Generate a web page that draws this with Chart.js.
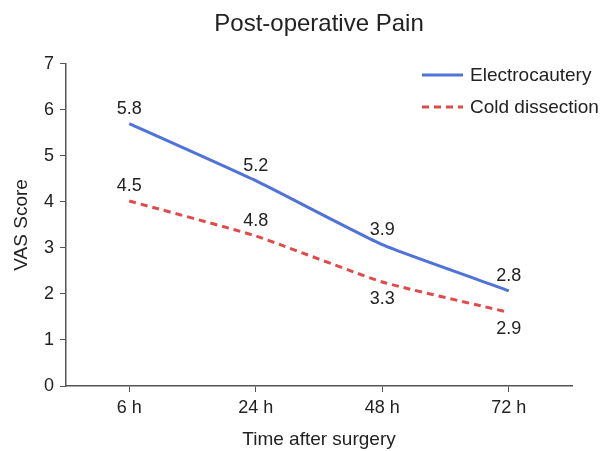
<!DOCTYPE html>
<html>
<head>
<meta charset="utf-8">
<script src="https://cdn.jsdelivr.net/npm/chart.js@4/dist/chart.umd.min.js"></script>
<style>
  html, body { margin: 0; padding: 0; background: #fff; }
  #wrap { width: 600px; height: 451px; }
</style>
</head>
<body>
<div id="wrap"><canvas id="painChart"></canvas></div>
<script>
const categories = ['6 h', '24 h', '48 h', '72 h'];
const electroValues = [5.7, 4.46, 3.07, 2.07];
const coldValues = [4.02, 3.26, 2.26, 1.6];
// printed labels (as shown on the figure)
const electroLabels = ['5.8', '5.2', '3.9', '2.8'];
const coldLabels = ['4.5', '4.8', '3.3', '2.9'];
const electroSide = ['above', 'above', 'above', 'above'];
const coldSide = ['above', 'above', 'below', 'below'];

const FONT = '"Liberation Sans", Arial, Helvetica, sans-serif';
const BLUE = '#4f73d9';
const RED = '#e04a4a';
const INK = '#222';

// value labels next to each point
const valueLabels = {
    id: 'valueLabels',
    afterDatasetsDraw(chart) {
        const ctx = chart.ctx;
        const sets = [[electroLabels, electroSide], [coldLabels, coldSide]];
        ctx.save();
        ctx.font = '18px ' + FONT;
        ctx.fillStyle = INK;
        ctx.textAlign = 'center';
        ctx.textBaseline = 'middle';
        sets.forEach(function (s, i) {
            chart.getDatasetMeta(i).data.forEach(function (pt, j) {
                const dy = s[1][j] === 'above' ? -15 : 17;
                ctx.fillText(s[0][j], pt.x, pt.y + dy);
            });
        });
        ctx.restore();
    }
};

// legend in the top right corner
const cornerLegend = {
    id: 'cornerLegend',
    afterDraw(chart) {
        const ctx = chart.ctx;
        ctx.save();
        ctx.font = '19px ' + FONT;
        ctx.textBaseline = 'middle';
        chart.data.datasets.forEach(function (ds, i) {
            const y = 75 + i * 32;
            ctx.strokeStyle = ds.borderColor;
            ctx.lineWidth = 3;
            ctx.setLineDash(ds.borderDash || []);
            ctx.beginPath();
            ctx.moveTo(422, y);
            ctx.lineTo(463, y);
            ctx.stroke();
            ctx.setLineDash([]);
            ctx.fillStyle = INK;
            ctx.fillText(ds.label, 470, y + 1);
        });
        ctx.restore();
    }
};

new Chart(document.getElementById('painChart'), {
    type: 'line',
    data: {
        labels: categories,
        datasets: [{
            label: 'Electrocautery',
            data: electroValues,
            borderColor: BLUE,
            borderWidth: 3,
            pointRadius: 0,
            tension: 0.15
        }, {
            label: 'Cold dissection',
            data: coldValues,
            borderColor: RED,
            borderWidth: 3,
            borderDash: [7, 5],
            pointRadius: 0,
            tension: 0.15
        }]
    },
    options: {
        responsive: true,
        maintainAspectRatio: false,
        animation: false,
        layout: { padding: { right: 28 } },
        plugins: {
            legend: { display: false },
            tooltip: { enabled: false },
            title: {
                display: true,
                fullSize: false,
                text: 'Post-operative Pain',
                color: INK,
                font: { family: FONT, size: 24, weight: 'normal' },
                padding: { top: 10, bottom: 25 }
            }
        },
        scales: {
            x: {
                offset: true,
                grid: { display: true, drawOnChartArea: false, drawTicks: true, tickLength: 6, color: '#555' },
                border: { color: '#555', width: 1.5 },
                ticks: { color: INK, font: { family: FONT, size: 18 }, padding: 5 },
                title: { display: true, text: 'Time after surgery', color: INK, font: { family: FONT, size: 19 }, padding: { top: 0, bottom: 0 } },
                afterFit: function (scale) { scale.height = 65; }
            },
            y: {
                min: 0,
                max: 7,
                ticks: { stepSize: 1, color: INK, font: { family: FONT, size: 18 }, padding: 6 },
                grid: { display: true, drawOnChartArea: false, drawTicks: true, tickLength: 6, color: '#555' },
                border: { color: '#555', width: 1.5 },
                title: { display: true, text: 'VAS Score', color: INK, font: { family: FONT, size: 19 }, padding: { top: 10, bottom: 0 } },
                afterFit: function (scale) { scale.width = 66; }
            }
        }
    },
    plugins: [valueLabels, cornerLegend]
});
</script>
</body>
</html>
